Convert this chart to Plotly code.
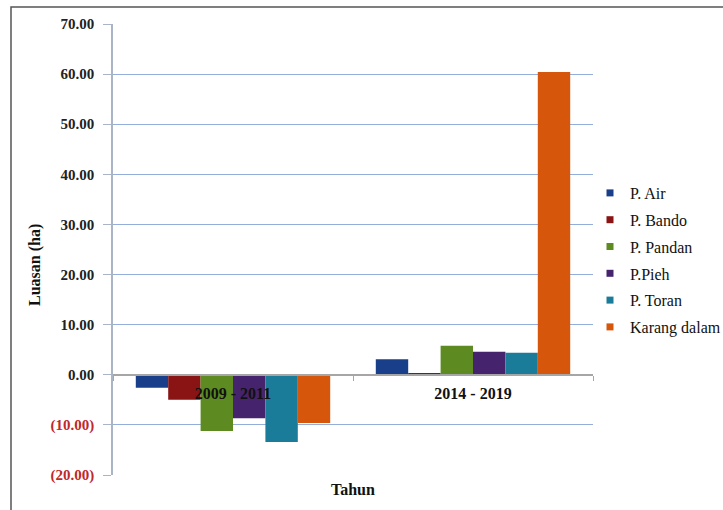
import plotly.graph_objects as go

categories = ["2009 - 2011", "2014 - 2019"]
series_names = ["P. Air", "P. Bando", "P. Pandan", "P.Pieh", "P. Toran", "Karang dalam"]
values = {
    "P. Air": [-2.6, 3.1],
    "P. Bando": [-5.0, 0.2],
    "P. Pandan": [-11.2, 5.8],
    "P.Pieh": [-8.7, 4.6],
    "P. Toran": [-13.4, 4.4],
    "Karang dalam": [-9.6, 60.4],
}
colors = ["#1A3F8A", "#8A1313", "#5E8A22", "#45246D", "#1A7C98", "#D6560C"]
tick_vals = [-20, -10, 0, 10, 20, 30, 40, 50, 60, 70]
tick_text = ["<span style='color:#C0282A'>(20.00)</span>",
             "<span style='color:#C0282A'>(10.00)</span>",
             "0.00", "10.00", "20.00", "30.00", "40.00", "50.00", "60.00", "70.00"]
y_range = [-20, 70]

FONT = "Liberation Serif"
fig = go.Figure()
for name, col in zip(series_names, colors):
    fig.add_trace(go.Bar(x=categories, y=values[name], name=name, marker_color=col,
                         marker_line_width=0, showlegend=False))
for name, col in zip(series_names, colors):
    fig.add_trace(go.Scatter(x=[None], y=[None], mode="markers", name=name,
                             marker=dict(symbol="square", size=7, color=col),
                             legendgroup=name, showlegend=True))

zero_pos = (0 - y_range[0]) / (y_range[1] - y_range[0])

fig.update_layout(
    width=723, height=510,
    margin=dict(l=113, r=130, t=24, b=35, autoexpand=False),
    paper_bgcolor="white", plot_bgcolor="white",
    barmode="group", bargap=0.19, bargroupgap=0,
    font=dict(family=FONT, color="#111111"),
    showlegend=True,
    legend=dict(x=(590 - 113) / 480, y=(475 - 176) / 451, xanchor="left", yanchor="top",
                font=dict(family=FONT, size=16, color="#111111"),
                traceorder="grouped", tracegroupgap=3,
                itemwidth=30, bgcolor="rgba(0,0,0,0)"),
    xaxis=dict(anchor="free", position=zero_pos, showgrid=False,
               showline=True, linecolor="#A6A6A6", linewidth=1.5,
               ticks="outside", ticklen=5, tickcolor="#A6A6A6",
               tickson="boundaries", ticklabelstandoff=4,
               tickfont=dict(family=FONT, size=16, color="#111111", weight="bold"),
               zeroline=False),
    yaxis=dict(range=y_range, tickvals=tick_vals, ticktext=tick_text,
               showgrid=True, gridcolor="#93AEDB", gridwidth=1,
               showline=True, linecolor="#A9B4C6", linewidth=1.5,
               ticks="outside", ticklen=8, tickcolor="#A9B4C6",
               tickfont=dict(family=FONT, size=15, color="#222222", weight="bold"),
               zeroline=False, ticklabelstandoff=6),
    shapes=[dict(type="rect", xref="paper", yref="paper",
                 x0=(11 - 113) / 480, x1=(760 - 113) / 480,
                 y0=(475 - 560) / 451, y1=(475 - 7) / 451,
                 line=dict(color="#555555", width=1.5), fillcolor="rgba(0,0,0,0)",
                 layer="below")],
    annotations=[
        dict(text="<b>Luasan (ha)</b>", xref="paper", yref="paper",
             x=(35 - 113) / 480, y=(475 - 265) / 451, textangle=-90,
             xanchor="center", yanchor="middle",
             showarrow=False, font=dict(family=FONT, size=16, color="#111111")),
        dict(text="<b>Tahun</b>", xref="paper", yref="paper",
             x=0.5, y=(475 - 489) / 451, xanchor="center", yanchor="middle",
             showarrow=False, font=dict(family=FONT, size=16, color="#111111")),
    ],
)

fig.write_html("out.html")
